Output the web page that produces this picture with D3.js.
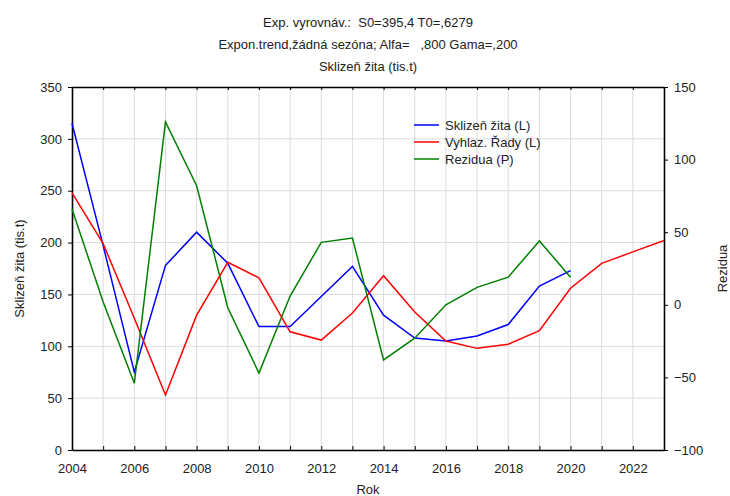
<!DOCTYPE html>
<html>
<head>
<meta charset="utf-8">
<script src="https://cdn.jsdelivr.net/npm/d3@7"></script>
<style>
body { margin: 0; background: #fff; }
svg { font-family: "Liberation Sans", Arial, sans-serif; }
.grid line { stroke: #dcdcdc; stroke-width: 1; }
.axis path, .axis line { stroke: #000; }
.axis text { font-size: 13px; fill: #222; }
</style>
</head>
<body>
<script>
// data
var years = [2004, 2005, 2006, 2007, 2008, 2009, 2010, 2011, 2012, 2013, 2014, 2015, 2016, 2017, 2018, 2019, 2020, 2021, 2022, 2023];
var sklizen = [315, 197, 75, 178, 210, 180, 119, 119, 148, 177, 130, 108, 105, 110, 121, 158, 173];
var vyhlaz = [248, 199, 127, 53, 130, 181, 166, 114, 106, 132, 168, 133, 105, 98, 102, 115, 156, 180, 191, 202];
var rezidua = [66, 2, -54, 126, 82, -2, -47, 6, 43, 46, -38, -23, 0, 12, 19, 44, 19];
var leftTicks = [0, 50, 100, 150, 200, 250, 300, 350];
var rightTicks = [-100, -50, 0, 50, 100, 150];
var titles = ["Exp. vyrovnáv.:  S0=395,4 T0=,6279", "Expon.trend,žádná sezóna; Alfa=   ,800 Gama=,200", "Sklizeň žita (tis.t)"];
var series = [
  {name: "Sklizeň žita (L)", vals: sklizen, color: "#0000ff", side: "L"},
  {name: "Vyhlaz. Řady (L)", vals: vyhlaz, color: "#ff0000", side: "L"},
  {name: "Rezidua (P)", vals: rezidua, color: "#008000", side: "P"}
];

var W = 730, H = 496;
var margin = {top: 87, right: 66, bottom: 46, left: 72};
var width = W - margin.left - margin.right,
    height = H - margin.top - margin.bottom;

var svg = d3.select("body").append("svg").attr("width", W).attr("height", H);

var x = d3.scaleLinear().domain([2004, 2023]).range([0, width]);
var yL = d3.scaleLinear().domain([0, 350]).range([height, 0]);
var yR = d3.scaleLinear().domain([-100, 150]).range([height, 0]);

var g = svg.append("g").attr("transform", "translate(" + margin.left + "," + margin.top + ")");

// gridlines
var grid = g.append("g").attr("class", "grid");
grid.selectAll(".vx").data(years.slice(1, -1)).enter().append("line")
    .attr("x1", x).attr("x2", x).attr("y1", 0).attr("y2", height);
grid.selectAll(".hy").data(leftTicks.slice(1, -1)).enter().append("line")
    .attr("x1", 0).attr("x2", width).attr("y1", yL).attr("y2", yL);

// axes
var xAxis = g.append("g").attr("class", "axis").attr("transform", "translate(0," + height + ")")
    .call(d3.axisBottom(x).tickValues(years).tickSize(-4).tickSizeOuter(0)
      .tickFormat(function(d) { return d % 2 === 0 && d < 2023 ? d : ""; }));
xAxis.selectAll("text").attr("dy", "1.5em");

g.append("g").attr("class", "axis")
    .call(d3.axisLeft(yL).tickValues(leftTicks).tickSize(4).tickSizeOuter(0).tickPadding(6));
g.append("g").attr("class", "axis").attr("transform", "translate(" + width + ",0)")
    .call(d3.axisRight(yR).tickValues(rightTicks).tickSize(4).tickSizeOuter(0).tickPadding(6));

// top frame
g.append("g").attr("class", "axis")
    .call(d3.axisTop(x).tickValues(years).tickSize(-3).tickSizeOuter(0).tickFormat(""));

g.selectAll(".axis path").attr("stroke-width", 1.6);

// lines
series.forEach(function(s) {
  var ys = s.side === "L" ? yL : yR;
  var line = d3.line()
      .x(function(d, i) { return x(years[i]); })
      .y(function(d) { return ys(d); });
  g.append("path").datum(s.vals)
      .attr("fill", "none")
      .attr("stroke", s.color)
      .attr("stroke-width", 1.5)
      .attr("d", line);
});

// legend
var leg = g.append("g").attr("transform", "translate(342,38)");
series.forEach(function(s, i) {
  leg.append("line").attr("x1", 0).attr("x2", 25).attr("y1", i * 17).attr("y2", i * 17)
      .attr("stroke", s.color).attr("stroke-width", 1.5);
  leg.append("text").attr("x", 31).attr("y", i * 17).attr("dy", "0.35em")
      .style("font-size", "13px").attr("fill", "#222").text(s.name);
});

// titles
titles.forEach(function(t, i) {
  svg.append("text").attr("x", 368).attr("y", 27 + i * 22)
      .attr("text-anchor", "middle").style("font-size", "13px").attr("fill", "#222")
      .style("white-space", "pre").attr("xml:space", "preserve").text(t);
});

// axis titles
svg.append("text").attr("x", 368).attr("y", 494).attr("text-anchor", "middle")
    .style("font-size", "13px").attr("fill", "#222").text("Rok");
svg.append("text").attr("transform", "translate(24," + (margin.top + height / 2) + ") rotate(-90)")
    .attr("text-anchor", "middle").style("font-size", "13px").attr("fill", "#222").text("Sklizeň žita (tis.t)");
svg.append("text").attr("transform", "translate(727," + (margin.top + height / 2) + ") rotate(-90)")
    .attr("text-anchor", "middle").style("font-size", "13px").attr("fill", "#222").text("Rezidua");
</script>
</body>
</html>
